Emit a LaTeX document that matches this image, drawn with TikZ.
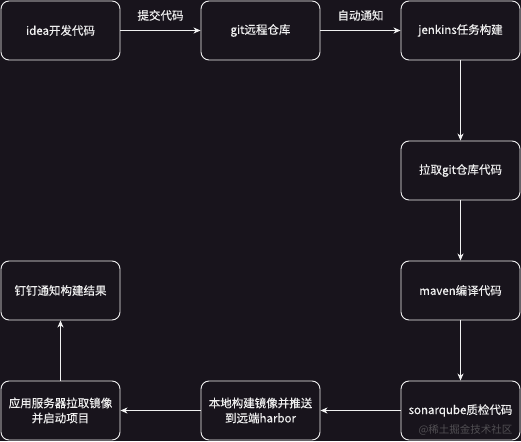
\documentclass[tikz,border=0pt]{standalone}
\usepackage{fontspec}
\setmainfont{Noto Sans CJK SC}[UprightFeatures={FakeBold=0.35}]
\newfontfamily\wmfont{Noto Sans CJK SC}
\usetikzlibrary{arrows.meta}
\definecolor{bg}{RGB}{24,20,28}
\definecolor{fg}{RGB}{240,240,240}
\tikzset{
  box/.style={draw=fg, fill=bg, rounded corners=8pt, line width=0.9pt,
    minimum width=119pt, minimum height=59pt, inner sep=2pt,
    text=fg, font=\fontsize{11.5pt}{15pt}\selectfont, align=center},
  conn/.style={draw=fg, line width=0.9pt, -{Stealth[length=7pt,width=6pt,inset=2pt]}},
  lbl/.style={text=fg, font=\fontsize{11.5pt}{14pt}\selectfont}
}
\begin{document}
\begin{tikzpicture}[x=1pt,y=-1pt]
\fill[bg] (0,0) rectangle (521,441);
\useasboundingbox (0,0) rectangle (521,441);
\node[box] (idea) at (60.5,30.5) {idea开发代码};
\node[box] (git) at (260.5,30.5) {git远程仓库};
\node[box] (jenkins) at (460.5,30.5) {jenkins任务构建};
\node[box] (pull) at (460.5,170.5) {拉取git仓库代码};
\node[box] (maven) at (460.5,290.5) {maven编译代码};
\node[box] (sonar) at (460.5,410.5) {sonarqube质检代码};
\node[box] (local) at (260.5,410.5) {本地构建镜像并推送\\到远端harbor};
\node[box] (app) at (60.5,410.5) {应用服务器拉取镜像\\并启动项目};
\node[box] (ding) at (60.5,290.5) {钉钉通知构建结果};
\draw[conn] (idea) -- node[lbl, above=6pt] (l1) {提交代码} (git);
\draw[conn] (git) -- node[lbl, above=6pt] (l2) {自动通知} (jenkins);
\draw[conn] (jenkins) -- (pull);
\draw[conn] (pull) -- (maven);
\draw[conn] (maven) -- (sonar);
\draw[conn] (sonar) -- (local);
\draw[conn] (local) -- (app);
\draw[conn] (app) -- (ding);
\node[text=gray!55!bg, font=\wmfont\fontsize{10.5pt}{12pt}\selectfont, anchor=east] (wm) at (516,430) {@稀土掘金技术社区};
\end{tikzpicture}
\end{document}
